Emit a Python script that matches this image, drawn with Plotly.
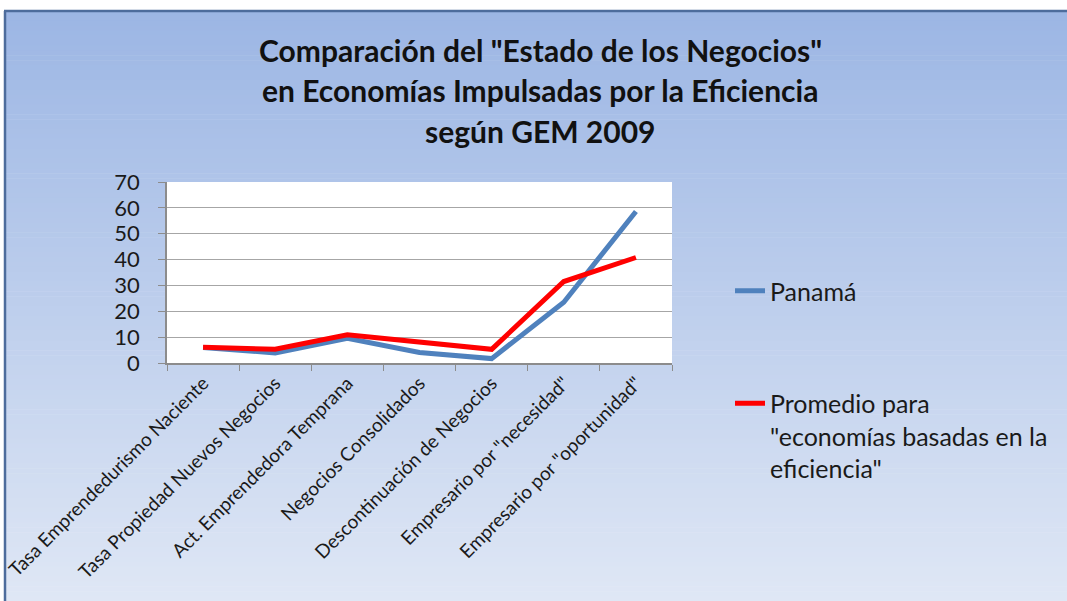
import plotly.graph_objects as go

categories = [
    "Tasa Emprendedurismo Naciente",
    "Tasa Propiedad Nuevos Negocios",
    "Act. Emprendedora Temprana",
    "Negocios Consolidados",
    "Descontinuación de Negocios",
    'Empresario por "necesidad"',
    'Empresario por "oportunidad"',
]
panama = [6.0, 3.9, 9.6, 4.1, 1.7, 23.5, 58.6]
promedio = [6.1, 5.3, 10.9, 8.1, 5.3, 31.5, 40.8]
series_names = ["Panamá", 'Promedio para<br>"economías basadas en la<br>eficiencia"']
title_lines = [
    'Comparación del "Estado de los Negocios"',
    "en Economías Impulsadas por la Eficiencia",
    "según GEM 2009",
]
y_ticks = [0, 10, 20, 30, 40, 50, 60, 70]

W, H = 1067, 601
L, R, T, B = 167, 672, 182, 363
pw, ph = R - L, B - T

def px2x(x):
    return (x - L) / pw

def px2y(y):
    return (B - y) / ph

FONT = "Lato"

fig = go.Figure()
fig.add_trace(go.Scatter(x=categories, y=panama, mode="lines", name=series_names[0],
                         line=dict(color="#4F81BD", width=5), legendgroup="a"))
fig.add_trace(go.Scatter(x=categories, y=promedio, mode="lines", name=series_names[1],
                         line=dict(color="#FF0000", width=5), legendgroup="b"))

shapes = []
# gradient background
top_c = (156, 182, 228)
bot_c = (223, 231, 245)
y_start, y_end = 11, 601
n = 120
for i in range(n):
    y0 = y_start + (y_end - y_start) * i / n
    y1 = min(y_end, y_start + (y_end - y_start) * (i + 1) / n + 0.6)
    t = i / (n - 1)
    c = tuple(round(top_c[k] + (bot_c[k] - top_c[k]) * t) for k in range(3))
    shapes.append(dict(type="rect", xref="paper", yref="paper",
                       x0=px2x(4), x1=px2x(W), y0=px2y(y0), y1=px2y(y1),
                       fillcolor="rgb(%d,%d,%d)" % c, line=dict(width=0), layer="below"))
# plot area white
shapes.append(dict(type="rect", xref="paper", yref="paper", x0=0, x1=1, y0=0, y1=1,
                   fillcolor="white", line=dict(width=0), layer="below"))
# frame lines
shapes.append(dict(type="line", xref="paper", yref="paper", x0=px2x(4), x1=px2x(W),
                   y0=px2y(11), y1=px2y(11), line=dict(color="#4d6c9c", width=2.5), layer="below"))
shapes.append(dict(type="line", xref="paper", yref="paper", x0=px2x(5), x1=px2x(5),
                   y0=px2y(11), y1=px2y(H), line=dict(color="#4d6c9c", width=2.5), layer="below"))

annotations = []
for i, line in enumerate(title_lines):
    annotations.append(dict(text="<b>%s</b>" % line, xref="paper", yref="paper",
                            x=px2x(540), y=px2y(50 + 40.5 * i), showarrow=False,
                            xanchor="center", yanchor="middle",
                            font=dict(family=FONT, size=30, color="#111111")))

fig.update_layout(
    width=W, height=H,
    margin=dict(l=L, r=W - R, t=T, b=H - B, autoexpand=False),
    paper_bgcolor="white",
    plot_bgcolor="white",
    shapes=shapes,
    annotations=annotations,
    showlegend=True,
    legend=dict(xref="container", yref="container", x=730 / W, y=1 - 268 / H,
                xanchor="left", yanchor="top", bgcolor="rgba(0,0,0,0)",
                font=dict(family=FONT, size=25, color="#1a1a1a"),
                tracegroupgap=77, valign="top", itemwidth=30),
    xaxis=dict(type="category", range=[-0.5, len(categories) - 0.5],
               tickson="boundaries", ticks="outside", ticklen=6,
               tickcolor="#8c8c8c", showline=True, linecolor="#8c8c8c", linewidth=1.5,
               showgrid=False, tickangle=-45,
               tickfont=dict(family=FONT, size=19, color="#1a1a1a")),
    yaxis=dict(range=[0, 70], tickvals=y_ticks, ticks="outside", ticklen=7,
               tickcolor="#8c8c8c", showline=True, linecolor="#8c8c8c", linewidth=1.5,
               gridcolor="#a6a6a6", gridwidth=1, zeroline=False, ticklabelstandoff=14,
               tickfont=dict(family=FONT, size=22, color="#1a1a1a")),
)

fig.write_html("out.html", config={"displayModeBar": False},
               post_script="document.body.style.margin='0';"
                           "document.documentElement.style.overflow='hidden';"
                           "document.body.style.overflow='hidden';")
